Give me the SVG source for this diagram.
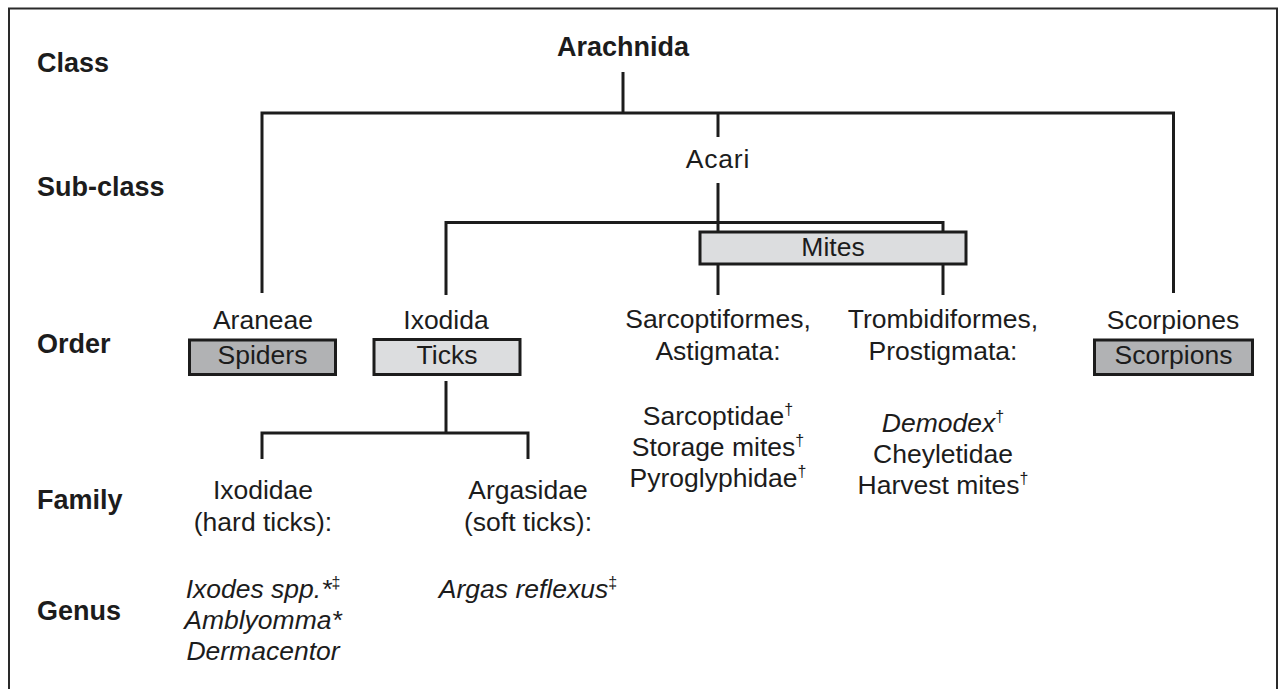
<svg xmlns="http://www.w3.org/2000/svg" width="1280" height="689" viewBox="0 0 1280 689">
<style>
.t{font-family:"Liberation Sans",Arial,sans-serif;font-size:26.5px;fill:#1c1c1c;text-anchor:middle}
.b{font-family:"Liberation Sans",Arial,sans-serif;font-size:27px;font-weight:bold;fill:#1c1c1c}
.i{font-style:italic}
.sup{font-size:16px}
.ln{stroke:#1c1c1c;stroke-width:3;fill:none;stroke-linecap:butt;stroke-linejoin:miter}
.bx{stroke:#1c1c1c;stroke-width:3}
.light{fill:#dcdddf}
.dark{fill:#b1b2b4}
</style>
<rect width="1280" height="689" fill="#ffffff"/>
<path d="M9 700 V8.5 H1277 V700" fill="none" stroke="#2a2a2a" stroke-width="2"/>

<g id="rank-labels">
<text class="b" x="37" y="72">Class</text>
<text class="b" x="37" y="196">Sub-class</text>
<text class="b" x="37" y="353">Order</text>
<text class="b" x="37" y="509">Family</text>
<text class="b" x="37" y="620">Genus</text>
</g>

<g id="connectors">
<path class="ln" d="M623 72 V113"/>
<path class="ln" d="M262 293 V113 H1173.5 V293"/>
<path class="ln" d="M718 113 V137"/>
<path class="ln" d="M718 183 V232"/>
<path class="ln" d="M446 295 V222.5 H943 V232"/>
<path class="ln" d="M718 264 V295"/>
<path class="ln" d="M943 264 V295"/>
<path class="ln" d="M446 381 V433"/>
<path class="ln" d="M262 459 V433 H528 V459"/>
</g>

<g id="arachnida">
<text class="b" x="623" y="56" text-anchor="middle" style="text-anchor:middle">Arachnida</text>
</g>

<g id="acari">
<text class="t" x="718" y="168" letter-spacing="0.8">Acari</text>
</g>

<g id="mites">
<rect class="bx light" x="700" y="232" width="266" height="32"/>
<text class="t" x="833" y="256">Mites</text>
</g>

<g id="araneae">
<text class="t" x="263" y="329">Araneae</text>
<rect class="bx dark" x="189.5" y="340" width="146" height="34.5"/>
<text class="t" x="262.5" y="364">Spiders</text>
</g>

<g id="ixodida">
<text class="t" x="446" y="329">Ixodida</text>
<rect class="bx light" x="374" y="339.5" width="146" height="35"/>
<text class="t" x="447" y="364">Ticks</text>
</g>

<g id="sarcoptiformes">
<text class="t" x="718" y="328">Sarcoptiformes,</text>
<text class="t" x="718" y="360">Astigmata:</text>
<text class="t" x="718" y="425">Sarcoptidae<tspan class="sup" dy="-10">†</tspan></text>
<text class="t" x="718" y="456">Storage mites<tspan class="sup" dy="-10">†</tspan></text>
<text class="t" x="718" y="487">Pyroglyphidae<tspan class="sup" dy="-10">†</tspan></text>
</g>

<g id="trombidiformes">
<text class="t" x="943" y="328">Trombidiformes,</text>
<text class="t" x="943" y="360">Prostigmata:</text>
<text class="t" x="943" y="432"><tspan class="i">Demodex</tspan><tspan class="sup" dy="-10">†</tspan></text>
<text class="t" x="943" y="463">Cheyletidae</text>
<text class="t" x="943" y="494">Harvest mites<tspan class="sup" dy="-10">†</tspan></text>
</g>

<g id="scorpiones">
<text class="t" x="1173" y="329">Scorpiones</text>
<rect class="bx dark" x="1094.5" y="340" width="158" height="34.5"/>
<text class="t" x="1173.5" y="364">Scorpions</text>
</g>

<g id="ixodidae">
<text class="t" x="263" y="499">Ixodidae</text>
<text class="t" x="263" y="531">(hard ticks):</text>
<text class="t" x="263" y="598"><tspan class="i">Ixodes spp.*</tspan><tspan class="sup" dy="-10">‡</tspan></text>
<text class="t i" x="263" y="629">Amblyomma*</text>
<text class="t i" x="263" y="660">Dermacentor</text>
</g>

<g id="argasidae">
<text class="t" x="528" y="499">Argasidae</text>
<text class="t" x="528" y="531">(soft ticks):</text>
<text class="t" x="528" y="598"><tspan class="i">Argas reflexus</tspan><tspan class="sup" dy="-10">‡</tspan></text>
</g>
</svg>
